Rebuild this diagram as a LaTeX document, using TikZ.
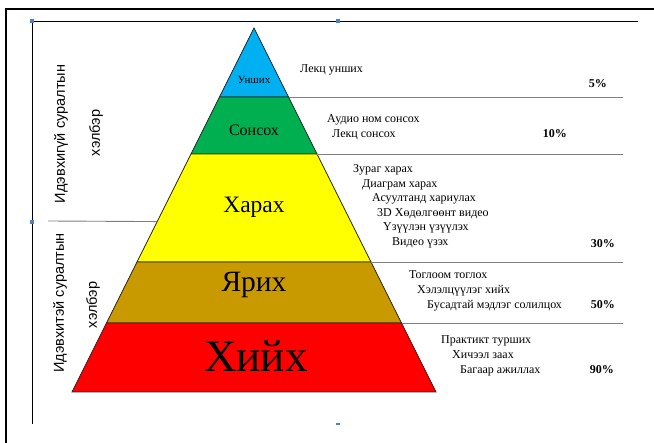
\documentclass[tikz,border=0pt]{standalone}
\usepackage{fontspec}
\setmainfont{Liberation Serif}
\newfontfamily\sidefont{Liberation Sans}
\usetikzlibrary{calc}

\definecolor{lvlblue}{RGB}{0,176,240}
\definecolor{lvlgreen}{RGB}{0,176,80}
\definecolor{lvlyellow}{RGB}{255,255,0}
\definecolor{lvlgold}{RGB}{201,153,0}
\definecolor{lvlred}{RGB}{255,0,0}
\definecolor{handleblue}{RGB}{79,129,189}

\begin{document}
\begin{tikzpicture}[x=1pt,y=-1pt,
    lvl/.style={draw=black!85,line width=0.8pt},
    rule/.style={draw=black!50,line width=0.9pt},
    item/.style={anchor=base west,inner sep=0pt,font=\fontsize{12}{14}\selectfont},
    pct/.style={anchor=base east,inner sep=0pt,font=\fontsize{12}{14}\selectfont\bfseries},
    side/.style={rotate=90,inner sep=0pt,font=\sidefont\fontsize{14.5}{17}\selectfont},
    handle/.style={fill=handleblue,minimum size=4.5pt,inner sep=0pt}]
    \fill[white] (0,0) rectangle (654,443);
    \useasboundingbox (0,0) rectangle (654,443);

    % frame
    \coordinate (fa) at (6,443);
    \coordinate (fb) at (6,9);
    \coordinate (fc) at (654,9);
    \draw[line width=2pt,line cap=rect] (fa) -- (fb) -- (fc);
    \draw[line width=0.8pt] (32,424) -- (32,21) -- (638,21);
    \node[handle] (h1) at (32,21) {};
    \node[handle] (h2) at (338,21) {};
    \node[handle] (h3) at (32,222) {};
    \node[handle,minimum height=2pt] (h4) at (338,424) {};

    % pyramid corners
    \coordinate (top) at (254,28);
    \coordinate (l1) at (219.5,97);  \coordinate (r1) at (288.5,97);
    \coordinate (l2) at (191,154);   \coordinate (r2) at (317,154);
    \coordinate (l3) at (137,262);   \coordinate (r3) at (371,262);
    \coordinate (l4) at (106.5,323); \coordinate (r4) at (401.5,323);
    \coordinate (l5) at (72,392);    \coordinate (r5) at (436,392);

    \draw[lvl,fill=lvlblue] (top) -- (r1) -- (l1) -- cycle;
    \draw[lvl,fill=lvlgreen] (l1) -- (r1) -- (r2) -- (l2) -- cycle;
    \draw[lvl,fill=lvlyellow] (l2) -- (r2) -- (r3) -- (l3) -- cycle;
    \draw[lvl,fill=lvlgold] (l3) -- (r3) -- (r4) -- (l4) -- cycle;
    \draw[lvl,fill=lvlred] (l4) -- (r4) -- (r5) -- (l5) -- cycle;

    \node[anchor=base,font=\fontsize{11}{13}\selectfont] (unsh) at (254,84) {Унших};
    \node[anchor=base,font=\fontsize{16}{18}\selectfont] (sons) at (254,136) {Сонсох};
    \node[anchor=base,font=\fontsize{23.5}{26}\selectfont] (khar) at (254,213) {Харах};
    \node[anchor=base,font=\fontsize{29.5}{32}\selectfont] (yar) at (254,292) {Ярих};
    \node[anchor=base,font=\fontsize{45}{50}\selectfont] (khiikh) at (256,372) {Хийх};

    % rules to the right
    \coordinate (e1) at (623,97);
    \coordinate (e2) at (623,154);
    \coordinate (e3) at (623,262);
    \coordinate (e4) at (623,323);
    \draw[rule] (r1) -- (e1);
    \draw[rule] (r2) -- (e2);
    \draw[rule] (r3) -- (e3);
    \draw[rule] (r4) -- (e4);

    % rule between the two forms
    \coordinate (s0) at (48,221);
    \coordinate (s1) at ($(top)!0.5318!(l5)$);
    \draw[rule] (s0) -- (s1);

    \node[side] (pass) at (61,134) {Идэвхигүй суралтын};
    \node[side] (passf) at (96,133) {хэлбэр};
    \node[side] (act) at (60,303) {Идэвхитэй суралтын};
    \node[side] (actf) at (93,305) {хэлбэр};

    % activities
    \node[item] (a1) at (300,73) {Лекц унших};
    \node[pct] (p1) at (607,88) {5\%};

    \node[item] (b1) at (327,123) {Аудио ном сонсох};
    \node[item] (b2) at (332,138) {Лекц сонсох};
    \node[pct] (p2) at (567,138) {10\%};

    \node[item] (c1) at (353,173) {Зураг харах};
    \node[item] (c2) at (362,187.5) {Диаграм харах};
    \node[item] (c3) at (372,202) {Асуултанд хариулах};
    \node[item] (c4) at (377,216.5) {3D Хөдөлгөөнт видео};
    \node[item] (c5) at (383,231) {Үзүүлэн үзүүлэх};
    \node[item] (c6) at (392,246) {Видео үзэх};
    \node[pct] (p3) at (615,248) {30\%};

    \node[item] (d1) at (409,279) {Тоглоом тоглох};
    \node[item] (d2) at (417,294) {Хэлэлцүүлэг хийх};
    \node[item] (d3) at (427,309) {Бусадтай мэдлэг солилцох};
    \node[pct] (p4) at (615,309) {50\%};

    \node[item] (f1) at (441,344) {Практикт турших};
    \node[item] (f2) at (452,359) {Хичээл заах};
    \node[item] (f3) at (460,374) {Багаар ажиллах};
    \node[pct] (p5) at (614,374) {90\%};
\end{tikzpicture}
\end{document}
